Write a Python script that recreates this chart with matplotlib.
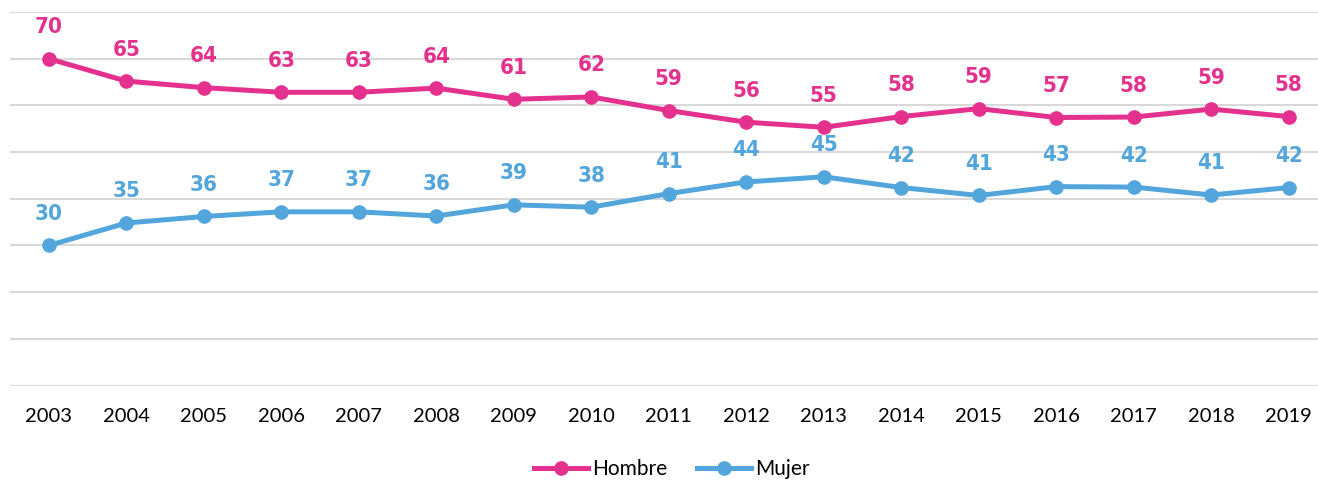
import matplotlib.pyplot as plt
from matplotlib import font_manager

# datos
years = ['2003', '2004', '2005', '2006', '2007', '2008', '2009', '2010', '2011',
         '2012', '2013', '2014', '2015', '2016', '2017', '2018', '2019']
hombre = [70.0, 65.2, 63.8, 62.8, 62.8, 63.7, 61.3, 61.8, 58.9, 56.4, 55.3,
          57.6, 59.3, 57.4, 57.5, 59.2, 57.6]
mujer = [30.0, 34.8, 36.2, 37.2, 37.2, 36.3, 38.7, 38.2, 41.1, 43.6, 44.7,
         42.4, 40.7, 42.6, 42.5, 40.8, 42.4]
hombre_lbl = [70, 65, 64, 63, 63, 64, 61, 62, 59, 56, 55, 58, 59, 57, 58, 59, 58]
mujer_lbl = [30, 35, 36, 37, 37, 36, 39, 38, 41, 44, 45, 42, 41, 43, 42, 41, 42]

c_h = '#E5318E'
c_m = '#53A6DC'

names = {f.name for f in font_manager.fontManager.ttflist}
narrow = 'Liberation Sans Narrow' if 'Liberation Sans Narrow' in names else 'DejaVu Sans'
base = 'Lato'

fig = plt.figure(figsize=(13.18, 4.8), dpi=100)
ax = fig.add_axes([10 / 1318, 1 - 385.5 / 480, 1308 / 1318, (385.5 - 12) / 480])

x = list(range(len(years)))
ax.plot(x, hombre, color=c_h, lw=3.6, marker='o', ms=9.5, label='Hombre', zorder=3)
ax.plot(x, mujer, color=c_m, lw=3.6, marker='o', ms=9.5, label='Mujer', zorder=3)

for i in x:
    ax.annotate(str(hombre_lbl[i]), (i, hombre[i]), xytext=(0, 15.5), textcoords='offset points',
                ha='center', va='bottom', color=c_h, fontsize=16, fontweight='bold',
                family=narrow, fontstretch='condensed')
    ax.annotate(str(mujer_lbl[i]), (i, mujer[i]), xytext=(0, 15.5), textcoords='offset points',
                ha='center', va='bottom', color=c_m, fontsize=16, fontweight='bold',
                family=narrow, fontstretch='condensed')

ax.set_xlim(-0.5, 16.377)
ax.set_ylim(0, 80)
ax.set_yticks(range(0, 81, 10))
ax.set_yticklabels([])
ax.set_xticks(x)
ax.set_xticklabels(years, fontsize=14.5, family=base)
ax.tick_params(axis='both', length=0)
ax.tick_params(axis='x', pad=16)
ax.grid(axis='y', color='#D9D9D9', lw=1.5)
ax.set_axisbelow(True)
for s in ax.spines.values():
    s.set_visible(False)

leg = ax.legend(loc='center', bbox_to_anchor=(672 / 1318, (480 - 469) / 480), bbox_transform=fig.transFigure,
                ncol=2, frameon=False, prop={'family': base, 'size': 15},
                handlelength=2.6, handletextpad=0.2, columnspacing=1.4)

plt.savefig('out.png', dpi=100)
